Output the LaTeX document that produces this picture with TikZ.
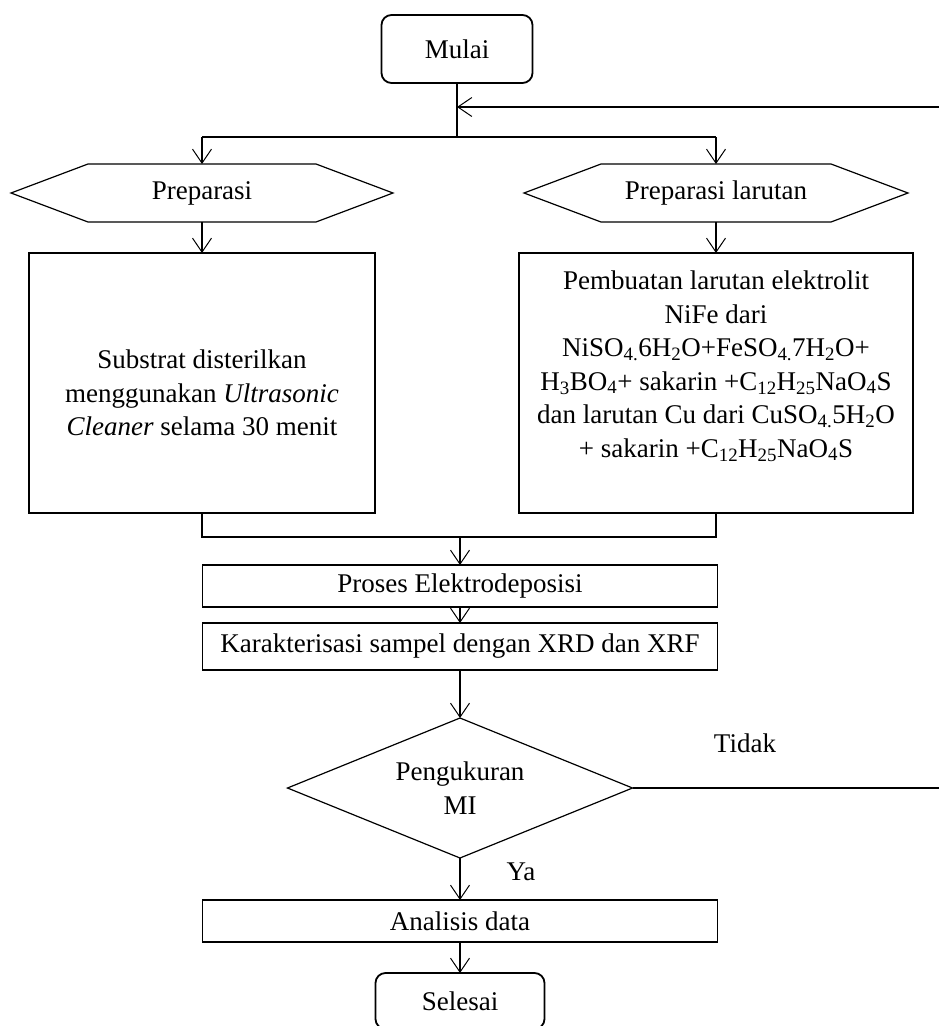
\documentclass[tikz,border=0pt]{standalone}
\usepackage{fontspec}
\setmainfont{Liberation Serif}
\usetikzlibrary{arrows.meta}
\begin{document}
\begin{tikzpicture}[x=1pt,y=-1pt,
  font=\fontsize{27}{33.5}\selectfont,
  every node/.style={inner sep=0pt, outer sep=0pt},
  term/.style={draw, line width=1.8pt, rounded corners=10pt, minimum width=151pt, minimum height=68pt},
  procbox/.style={draw, line width=1.2pt, minimum width=515pt, minimum height=42pt},
  bigbox/.style={draw, line width=1.2pt, minimum height=260pt},
  hexlab/.style={minimum width=382pt, minimum height=58pt},
  shapeline/.style={line width=1.2pt},
  conn/.style={line width=1.3pt},
  arr/.style={conn, -{Straight Barb[length=14pt,width=19pt,line width=1pt]}},
  txt/.style={align=center}
]
\useasboundingbox (0,0) rectangle (939,1026);

% terminals
\node[term] (mulai) at (457,49) {Mulai};
\node[term, minimum width=169pt, minimum height=56pt] (selesai) at (460,1001) {Selesai};

% hexagons
\node[hexlab] (prep) at (202,193) {Preparasi};
\node[hexlab, minimum width=384pt] (prepl) at (716,193) {Preparasi larutan};
\draw[shapeline] (prep.west) -- ([xshift=77pt]prep.north west) -- ([xshift=-77pt]prep.north east)
  -- (prep.east) -- ([xshift=-77pt]prep.south east) -- ([xshift=77pt]prep.south west) -- cycle;
\draw[shapeline] (prepl.west) -- ([xshift=77pt]prepl.north west) -- ([xshift=-77pt]prepl.north east)
  -- (prepl.east) -- ([xshift=-77pt]prepl.south east) -- ([xshift=77pt]prepl.south west) -- cycle;

% big boxes
\node[bigbox, minimum width=346pt] (sub) at (202,383) {};
\node[txt] (subtxt) at (202,393) {Substrat disterilkan\\menggunakan \textit{Ultrasonic}\\\textit{Cleaner} selama 30 menit};
\node[bigbox, minimum width=394pt] (lar) at (716,383) {};
\node[txt] (lartxt) at (716,366) {Pembuatan larutan elektrolit\\NiFe dari\\
NiSO\textsubscript{4.}6H\textsubscript{2}O+FeSO\textsubscript{4.}7H\textsubscript{2}O+\\
H\textsubscript{3}BO\textsubscript{4}+ sakarin +C\textsubscript{12}H\textsubscript{25}NaO\textsubscript{4}S\\
dan larutan Cu dari CuSO\textsubscript{4.}5H\textsubscript{2}O\\
+ sakarin +C\textsubscript{12}H\textsubscript{25}NaO\textsubscript{4}S};

% process boxes
\node[procbox] (proses) at (460,586) {Proses Elektrodeposisi};
\node[procbox, minimum height=47pt] (karak) at (460,646.5) {Karakterisasi sampel dengan XRD dan XRF};
\node[procbox] (anal) at (460,921) {Analisis data};

% decision
\node[minimum width=345pt, minimum height=140pt, txt] (dec) at (460,788) {Pengukuran\\MI};
\draw[shapeline] (dec.north) -- (dec.east) -- (dec.south) -- (dec.west) -- cycle;

% labels
\node (tidak) at (745,743) {Tidak};
\node (ya) at (521,872) {Ya};

% connectors
\coordinate (split) at (457,137);
\coordinate (jl) at (202,137);
\coordinate (jr) at (716,137);
\coordinate (fbR) at (940,107);
\coordinate (fbL) at (457,107);
\coordinate (ml) at (202,537);
\coordinate (mr) at (716,537);
\coordinate (mm) at (460,537);
\coordinate (tidakR) at (940,788);

\draw[conn] (mulai.south) -- (split);
\draw[arr] (fbR) -- (fbL);
\draw[conn] (jl) -- (jr);
\draw[arr] (jl) -- (prep.north);
\draw[arr] (jr) -- (prepl.north);
\draw[arr] (prep.south) -- (sub.north);
\draw[arr] (prepl.south) -- (lar.north);
\draw[conn] (sub.south) -- (ml) -- (mr) -- (lar.south);
\draw[arr] (mm) -- (proses.north);
\draw[arr] (proses.south) -- (karak.north);
\draw[arr] (karak.south) -- (dec.north);
\draw[conn] (dec.east) -- (tidakR);
\draw[arr] (dec.south) -- (anal.north);
\draw[arr] (anal.south) -- (selesai.north);
\end{tikzpicture}
\end{document}
